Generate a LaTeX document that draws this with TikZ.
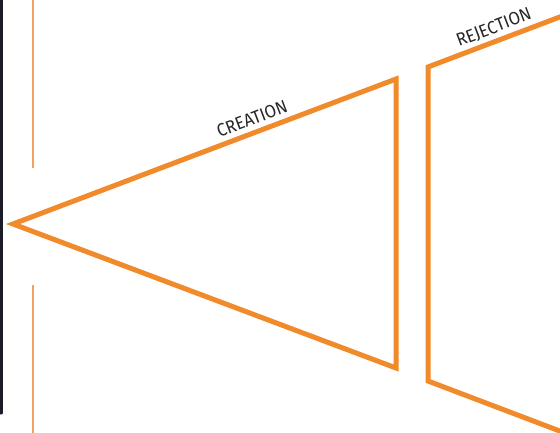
\documentclass[tikz,border=0pt]{standalone}
\usepackage{fontspec}
\setmainfont{Fira Sans}
\newfontfamily\lblfont[FakeStretch=0.93]{Fira Sans}
\definecolor{org}{HTML}{F08A2B}
\definecolor{orgl}{HTML}{F2A25C}
\definecolor{darkbar}{HTML}{1C1C28}
\begin{document}
\begin{tikzpicture}[x=1pt,y=-1pt,
  shape line/.style={draw=org,line width=5pt,line join=miter},
  guide/.style={draw=orgl,line width=1.6pt},
  lbl/.style={font=\lblfont\fontsize{18}{20}\selectfont,text=black!85,rotate=20.8,inner sep=0pt}]
\useasboundingbox (0,0) rectangle (560,433);
\fill[white] (0,0) rectangle (560,433);
% dark bar at left
\draw[darkbar,line width=3pt,line cap=round] (1,-5) -- (1,413);
% thin guides
\coordinate (g1) at (33,0);
\coordinate (g2) at (33,168);
\coordinate (g3) at (33,285);
\coordinate (g4) at (33,433);
\draw[guide] (g1) -- (g2);
\draw[guide] (g3) -- (g4);
% triangle
\coordinate (tip) at (13,224);
\coordinate (tr) at (396,79);
\coordinate (br) at (396,368);
\draw[shape line] (tip) -- (tr) -- (br) -- cycle;
% second shape
\coordinate (rtl) at (428,67);
\coordinate (rtr) at (565,15);
\coordinate (rbl) at (428,381);
\coordinate (rbr) at (565,433);
\draw[shape line] (rtr) -- (rtl) -- (rbl) -- (rbr);
% labels
\node[lbl] (creation) at (252,119) {CREATION};
\node[lbl] (rejection) at (494,28) {REJECTION};
\end{tikzpicture}
\end{document}
